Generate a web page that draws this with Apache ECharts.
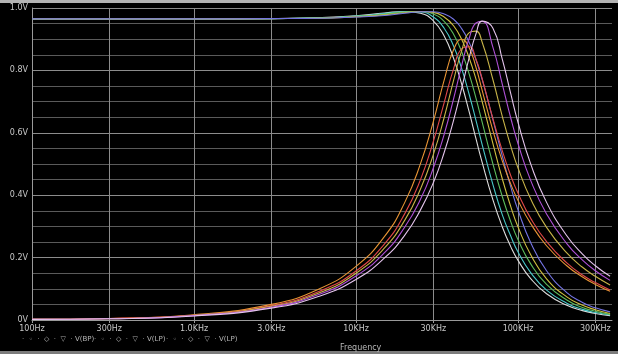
<!DOCTYPE html>
<html>
<head>
<meta charset="utf-8">
<script src="https://cdn.jsdelivr.net/npm/echarts@6/dist/echarts.min.js"></script>
<style>
html, body { margin: 0; padding: 0; background: #000; }
#chart { width: 618px; height: 354px; }
</style>
</head>
<body>
<div id="chart"></div>
<script>
// frequency points (Hz) shared by all traces
const freqs = [100, 300, 1e3, 3e3, 6e3, 10e3, 15e3, 20e3, 25e3, 30e3, 35e3, 40e3, 45e3, 50e3, 55e3, 60e3, 70e3, 80e3, 90e3, 100e3, 120e3, 150e3, 200e3, 250e3, 300e3, 370e3]

// low pass traces (V)
const lp1 = [0.965, 0.965, 0.965, 0.966, 0.969, 0.975, 0.984, 0.989, 0.983, 0.959, 0.910, 0.839, 0.754, 0.666, 0.581, 0.506, 0.385, 0.298, 0.236, 0.191, 0.132, 0.084, 0.047, 0.030, 0.021, 0.014]
const lp2 = [0.965, 0.965, 0.965, 0.966, 0.968, 0.974, 0.982, 0.988, 0.987, 0.971, 0.935, 0.878, 0.804, 0.722, 0.640, 0.563, 0.434, 0.337, 0.270, 0.218, 0.151, 0.096, 0.054, 0.034, 0.024, 0.016]
const lp3 = [0.965, 0.965, 0.965, 0.966, 0.968, 0.973, 0.980, 0.987, 0.989, 0.981, 0.957, 0.916, 0.858, 0.787, 0.711, 0.635, 0.500, 0.395, 0.316, 0.257, 0.179, 0.114, 0.064, 0.040, 0.028, 0.018]
const lp4 = [0.965, 0.965, 0.965, 0.966, 0.967, 0.972, 0.978, 0.985, 0.989, 0.986, 0.971, 0.943, 0.898, 0.839, 0.772, 0.701, 0.565, 0.452, 0.365, 0.298, 0.208, 0.132, 0.074, 0.047, 0.033, 0.021]
const lp5 = [0.965, 0.965, 0.965, 0.966, 0.967, 0.971, 0.976, 0.983, 0.988, 0.988, 0.981, 0.964, 0.933, 0.889, 0.834, 0.772, 0.642, 0.525, 0.428, 0.352, 0.247, 0.158, 0.088, 0.056, 0.039, 0.026]

// band pass traces (V)
const bp1 = [0.002, 0.005, 0.017, 0.050, 0.101, 0.172, 0.268, 0.377, 0.501, 0.636, 0.769, 0.866, 0.900, 0.872, 0.810, 0.737, 0.607, 0.509, 0.437, 0.383, 0.308, 0.238, 0.174, 0.138, 0.114, 0.092]
const bp2 = [0.002, 0.005, 0.015, 0.046, 0.093, 0.157, 0.244, 0.341, 0.450, 0.572, 0.697, 0.805, 0.870, 0.876, 0.836, 0.774, 0.645, 0.542, 0.464, 0.406, 0.325, 0.251, 0.183, 0.144, 0.120, 0.096]
const bp3 = [0.002, 0.004, 0.015, 0.044, 0.088, 0.150, 0.231, 0.320, 0.420, 0.530, 0.649, 0.768, 0.865, 0.921, 0.926, 0.891, 0.770, 0.652, 0.559, 0.487, 0.387, 0.297, 0.215, 0.169, 0.140, 0.112]
const bp4 = [0.002, 0.004, 0.014, 0.041, 0.083, 0.141, 0.216, 0.298, 0.387, 0.487, 0.595, 0.709, 0.818, 0.904, 0.952, 0.957, 0.874, 0.755, 0.649, 0.565, 0.446, 0.340, 0.245, 0.192, 0.158, 0.127]
const bp5 = [0.002, 0.004, 0.013, 0.038, 0.077, 0.130, 0.199, 0.272, 0.353, 0.440, 0.537, 0.640, 0.745, 0.842, 0.917, 0.958, 0.935, 0.835, 0.727, 0.633, 0.499, 0.377, 0.270, 0.211, 0.174, 0.140]

// x tick positions (Hz) and labels
const tickFreqs = [100, 300, 1e3, 3e3, 10e3, 30e3, 100e3, 300e3]
const tickLabels = ['100Hz', '300Hz', '1.0KHz', '3.0KHz', '10KHz', '30KHz', '100KHz', '300KHz']

// legend entries along the bottom
const legendNames = ['V(BP)', 'V(LP)', 'V(LP)']

const traces = [
    { data: lp1, color: '#dcdcdc' },
    { data: lp2, color: '#48c8c8' },
    { data: lp3, color: '#5cbc5c' },
    { data: lp4, color: '#d0c040' },
    { data: lp5, color: '#7474e4' },
    { data: bp1, color: '#e89434' },
    { data: bp2, color: '#e04848' },
    { data: bp3, color: '#c8b448' },
    { data: bp4, color: '#b050d8' },
    { data: bp5, color: '#e4c4ec' }
]

const tickPos = tickFreqs.map(f => Math.log10(f))

const legendGraphics = []
legendNames.forEach((name, i) => {
    const x0 = 22 + i * 72
    legendGraphics.push({
        type: 'text', left: x0, top: 336,
        style: { text: '\u00b7  \u25e6  \u00b7  \u25c7  \u00b7  \u25bd  \u00b7', fill: '#a8a8a8', font: '7px DejaVu Sans' }
    })
    legendGraphics.push({
        type: 'text', left: x0 + 53, top: 336,
        style: { text: name, fill: '#b8b8b8', font: '7px DejaVu Sans' }
    })
})

const myChart = echarts.init(document.getElementById('chart'))
const option = {
    backgroundColor: '#000',
    animation: false,
    grid: { left: 32, right: 6, top: 8, bottom: 34 },
    xAxis: {
        type: 'value',
        min: 2,
        max: 5.58,
        axisLine: { lineStyle: { color: '#9a9a9a', width: 1 } },
        axisTick: { show: true, customValues: tickPos, length: 3, lineStyle: { color: '#9a9a9a' } },
        axisLabel: {
            customValues: tickPos,
            color: '#c8c8c8',
            fontSize: 8,
            fontFamily: 'DejaVu Sans',
            margin: 5,
            formatter: (val) => {
                const i = tickPos.findIndex(p => Math.abs(p - val) < 1e-6)
                return i > -1 ? tickLabels[i] : ''
            }
        },
        splitLine: { show: true, lineStyle: { color: '#8c8c8c', width: 1 } }
    },
    yAxis: {
        type: 'value',
        min: 0,
        max: 1,
        interval: 0.2,
        axisLine: { show: true, lineStyle: { color: '#9a9a9a' } },
        axisTick: { show: false },
        axisLabel: {
            color: '#c8c8c8',
            fontSize: 8,
            fontFamily: 'DejaVu Sans',
            margin: 4,
            formatter: (val) => val === 0 ? '0V' : val.toFixed(1) + 'V'
        },
        splitLine: { show: true, lineStyle: { color: '#8c8c8c', width: 1 } },
        minorTick: { show: false, splitNumber: 4 },
        minorSplitLine: { show: true, lineStyle: { color: '#5a5a5a', width: 1 } }
    },
    series: traces.map(t => ({
        type: 'line',
        showSymbol: false,
        smooth: 0.5,
        data: freqs.map((f, i) => [Math.log10(f), t.data[i]]),
        lineStyle: { color: t.color, width: 1.1 },
        itemStyle: { color: t.color }
    })),
    graphic: [
        { type: 'rect', left: 0, top: 0, shape: { width: 618, height: 3 }, style: { fill: '#b4b4b4' } },
        { type: 'rect', left: 0, top: 351, shape: { width: 618, height: 3 }, style: { fill: '#7c7c7c' } },
        ...legendGraphics,
        {
            type: 'text', left: 340, top: 344,
            style: { text: 'Frequency', fill: '#b8b8b8', font: '8px DejaVu Sans' }
        }
    ]
}
myChart.setOption(option)
</script>
</body>
</html>
